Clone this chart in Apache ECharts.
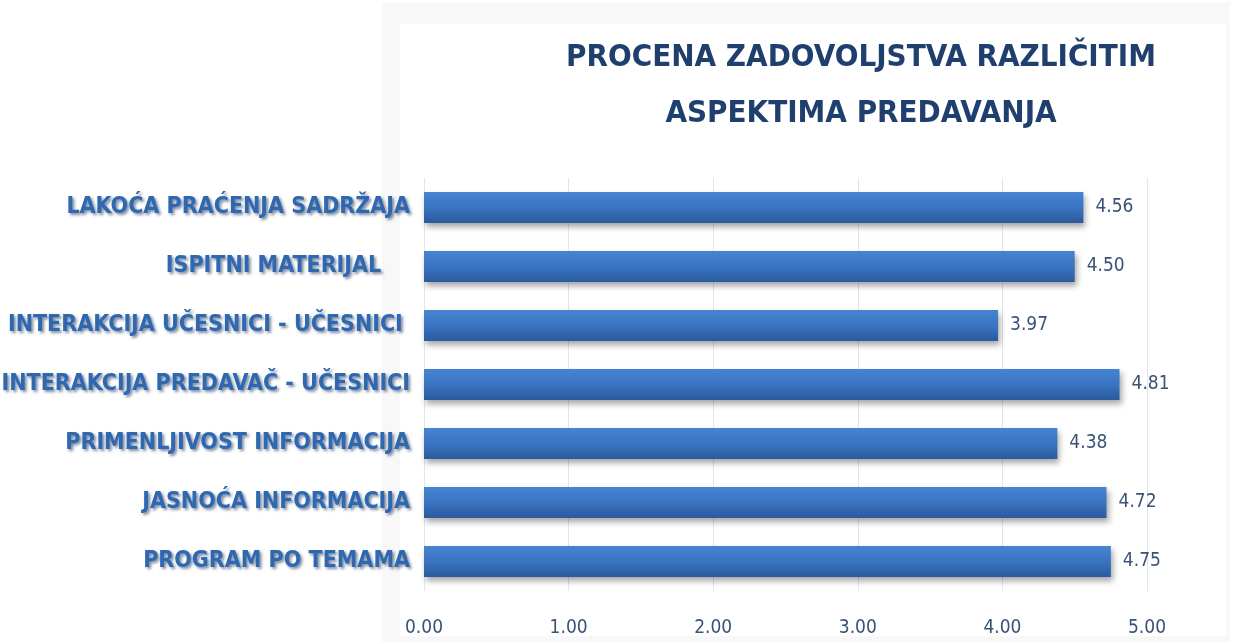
<!DOCTYPE html>
<html>
<head>
<meta charset="utf-8">
<script src="https://cdn.jsdelivr.net/npm/echarts@6/dist/echarts.min.js"></script>
<style>
  html, body { margin: 0; padding: 0; background: #fff; }
  #chart { width: 1233px; height: 644px; }
</style>
</head>
<body>
<div id="chart"></div>
<script>
const categories = [
  'PROGRAM PO TEMAMA',
  'JASNOĆA INFORMACIJA',
  'PRIMENLJIVOST INFORMACIJA',
  'INTERAKCIJA PREDAVAČ - UČESNICI',
  'INTERAKCIJA UČESNICI - UČESNICI ',
  'ISPITNI MATERIJAL    ',
  'LAKOĆA PRAĆENJA SADRŽAJA'
]
const scores = [4.75, 4.72, 4.38, 4.81, 3.97, 4.50, 4.56]
const tickLabels = ['0.00', '1.00', '2.00', '3.00', '4.00', '5.00']

const narrow = '"DejaVu Sans Condensed", "Liberation Sans Narrow", sans-serif'

const chart = echarts.init(document.getElementById('chart'))
const option = {
  backgroundColor: '#ffffff',
  graphic: [
    { type: 'rect', z: -10, shape: { x: 382, y: 2, width: 848, height: 640 }, style: { fill: '#f8f8f8' } },
    { type: 'rect', z: -9, shape: { x: 400, y: 24, width: 826, height: 612 }, style: { fill: '#ffffff' } }
  ],
  title: {
    text: 'PROCENA ZADOVOLJSTVA RAZLIČITIM\nASPEKTIMA PREDAVANJA',
    left: 856,
    top: 25,
    textAlign: 'center',
    textStyle: {
      fontFamily: narrow,
      fontWeight: 'bold',
      fontSize: 31,
      lineHeight: 56,
      color: '#1f3f6e'
    }
  },
  grid: {
    left: 424,
    right: 86,
    top: 178,
    bottom: 53,
    outerBoundsMode: 'none',
    containLabel: false
  },
  xAxis: {
    type: 'value',
    min: 0,
    max: 5,
    interval: 1,
    axisLine: { show: false },
    axisTick: { show: false },
    splitLine: { show: true, lineStyle: { color: '#dfe6f0', width: 1 } },
    axisLabel: {
      margin: 28,
      fontFamily: narrow,
      fontSize: 19,
      color: '#3b5277',
      formatter: (v) => tickLabels[Math.round(v)]
    }
  },
  yAxis: {
    type: 'category',
    data: categories,
    axisLine: { show: false },
    axisTick: { show: false },
    axisLabel: {
      margin: 14,
      fontFamily: narrow,
      fontWeight: 'bold',
      fontSize: 23,
      color: '#2e68b0',
      textShadowColor: 'rgba(20,40,80,0.55)',
      textShadowBlur: 3,
      textShadowOffsetX: 2,
      textShadowOffsetY: 2
    }
  },
  series: [{
    type: 'bar',
    data: scores,
    barWidth: 31,
    itemStyle: {
      color: new echarts.graphic.LinearGradient(0, 0, 0, 1, [
        { offset: 0, color: '#4684d2' },
        { offset: 0.5, color: '#3a74c2' },
        { offset: 1, color: '#2a5a9c' }
      ]),
      shadowColor: 'rgba(0,0,0,0.35)',
      shadowBlur: 6,
      shadowOffsetX: 2,
      shadowOffsetY: 4
    },
    label: {
      show: true,
      position: 'right',
      distance: 12,
      fontFamily: narrow,
      fontSize: 19,
      color: '#3b5277',
      formatter: (p) => p.value.toFixed(2)
    }
  }]
}
chart.setOption(option)
</script>
</body>
</html>
